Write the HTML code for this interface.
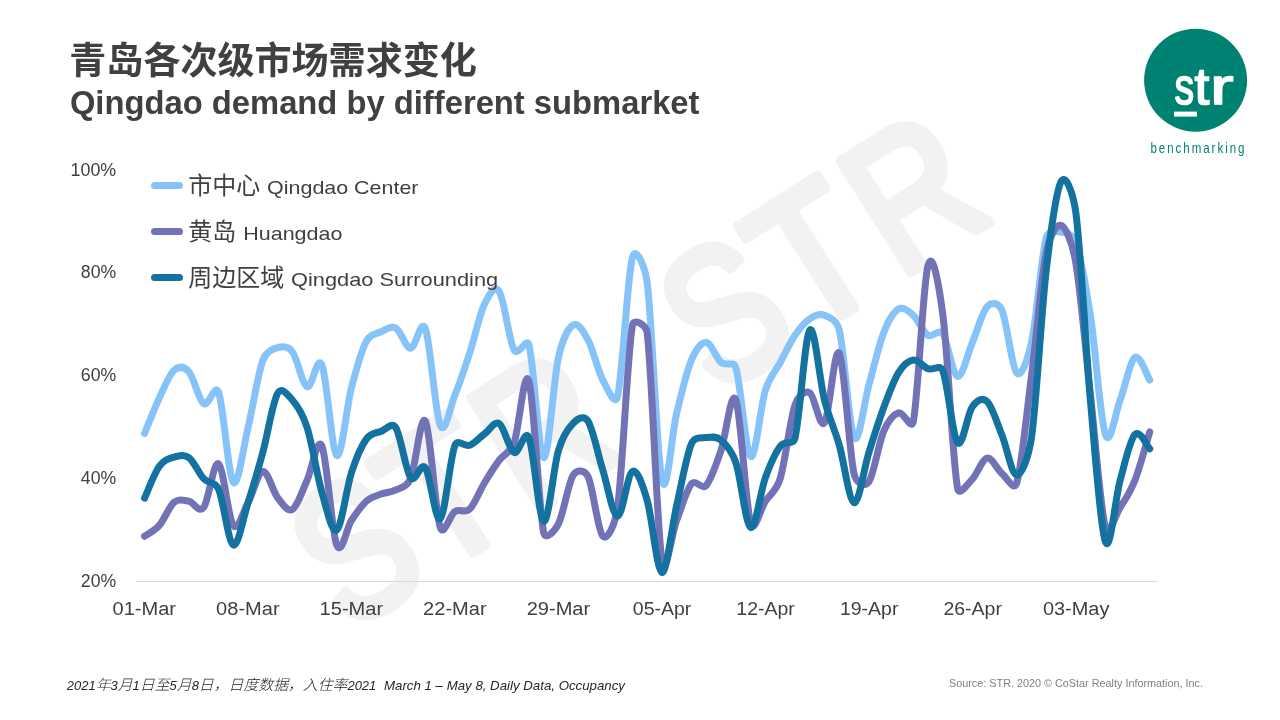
<!DOCTYPE html>
<html lang="zh"><head><meta charset="utf-8"><title>Qingdao demand by different submarket</title>
<style>html,body{margin:0;padding:0;background:#fff}body{width:1280px;height:720px;overflow:hidden}svg{display:block}</style></head>
<body>
<svg width="1280" height="720" viewBox="0 0 1280 720">
<rect width="1280" height="720" fill="#fff"/>
<g font-family="'Liberation Sans',sans-serif" fill="#f2f2f2" stroke="#f2f2f2" stroke-width="10" stroke-linejoin="round" font-size="191">
<text transform="translate(345.1,637.5) rotate(-32.5) translate(0,-3)"><tspan x="5" textLength="102" lengthAdjust="spacingAndGlyphs">S</tspan><tspan x="109.5" textLength="102.4" lengthAdjust="spacingAndGlyphs">T</tspan><tspan x="221" textLength="115" lengthAdjust="spacingAndGlyphs">R</tspan></text>
<text transform="translate(714.6,400.7) rotate(-32.5) translate(0,-3)"><tspan x="5" textLength="102" lengthAdjust="spacingAndGlyphs">S</tspan><tspan x="109.5" textLength="102.4" lengthAdjust="spacingAndGlyphs">T</tspan><tspan x="221" textLength="115" lengthAdjust="spacingAndGlyphs">R</tspan></text>
</g>
<text x="69.3" y="74" font-family="'Liberation Sans','Noto Sans CJK SC',sans-serif" font-weight="bold" font-size="37.4" fill="#404040" textLength="407.5" lengthAdjust="spacingAndGlyphs">青岛各次级市场需求变化</text>
<text x="69.9" y="113.7" font-family="'Liberation Sans',sans-serif" font-weight="bold" font-size="34" fill="#404040" textLength="629.6" lengthAdjust="spacingAndGlyphs">Qingdao demand by different submarket</text>
<line x1="136.2" y1="581.5" x2="1157.5" y2="581.5" stroke="#d9d9d9" stroke-width="1"/>
<g font-family="'Liberation Sans',sans-serif" font-size="17.6" fill="#404040">
<text x="70.6" y="175.6" textLength="45.6" lengthAdjust="spacingAndGlyphs">100%</text>
<text x="80.8" y="278.4" textLength="35.4" lengthAdjust="spacingAndGlyphs">80%</text>
<text x="80.8" y="381.1" textLength="35.4" lengthAdjust="spacingAndGlyphs">60%</text>
<text x="80.8" y="483.9" textLength="35.4" lengthAdjust="spacingAndGlyphs">40%</text>
<text x="80.8" y="586.6" textLength="35.4" lengthAdjust="spacingAndGlyphs">20%</text>
<text x="112.5" y="614.8" textLength="63.5" lengthAdjust="spacingAndGlyphs">01-Mar</text>
<text x="216.1" y="614.8" textLength="63.5" lengthAdjust="spacingAndGlyphs">08-Mar</text>
<text x="319.6" y="614.8" textLength="63.5" lengthAdjust="spacingAndGlyphs">15-Mar</text>
<text x="423.1" y="614.8" textLength="63.5" lengthAdjust="spacingAndGlyphs">22-Mar</text>
<text x="526.7" y="614.8" textLength="63.5" lengthAdjust="spacingAndGlyphs">29-Mar</text>
<text x="632.8" y="614.8" textLength="58.5" lengthAdjust="spacingAndGlyphs">05-Apr</text>
<text x="736.3" y="614.8" textLength="58.5" lengthAdjust="spacingAndGlyphs">12-Apr</text>
<text x="839.9" y="614.8" textLength="58.5" lengthAdjust="spacingAndGlyphs">19-Apr</text>
<text x="943.4" y="614.8" textLength="58.5" lengthAdjust="spacingAndGlyphs">26-Apr</text>
<text x="1042.9" y="614.8" textLength="66.5" lengthAdjust="spacingAndGlyphs">03-May</text>
</g>
<g fill="none" stroke-width="7" stroke-linecap="round" stroke-linejoin="round">
<path stroke="#86c3f9" d="M144.55 433.44C147.01 427.53 154.40 408.52 159.33 397.99C164.26 387.46 169.19 374.62 174.11 370.25C179.04 365.88 183.97 366.23 188.90 371.79C193.82 377.36 198.75 400.30 203.68 403.64C208.61 406.98 215.13 382.97 218.46 391.83C223.39 404.93 228.31 476.25 233.24 482.25C238.17 488.24 243.10 448.08 248.02 427.79C252.95 407.50 257.88 373.84 262.81 360.49C266.19 351.30 272.66 349.10 277.59 347.64C282.52 346.19 287.74 345.64 292.37 351.75C297.30 358.26 302.22 384.46 307.15 386.69C312.08 388.91 317.01 353.64 321.93 365.11C326.86 376.58 331.79 451.76 336.72 455.53C341.64 459.30 346.57 406.72 351.50 387.72C356.43 368.71 361.35 350.81 366.28 341.48C370.42 333.65 376.13 333.94 381.06 331.72C385.99 329.49 390.92 325.38 395.84 328.12C400.77 330.86 405.70 348.07 410.63 348.16C415.55 348.24 421.02 317.20 425.41 328.63C430.34 341.48 435.26 414.17 440.19 425.22C445.12 436.27 450.04 406.98 454.97 394.91C459.90 382.84 464.83 367.94 469.75 352.78C474.68 337.63 479.61 314.16 484.54 303.97C488.73 295.31 494.39 283.94 499.32 291.64C504.25 299.35 509.17 341.39 514.10 350.21C517.96 357.12 526.78 336.93 528.88 344.56C533.81 362.46 538.74 455.45 543.66 457.59C548.59 459.73 553.52 379.50 558.45 357.40C562.32 340.04 568.30 327.95 573.23 325.04C578.16 322.13 583.08 330.78 588.01 339.94C592.94 349.10 597.86 370.59 602.79 380.01C607.72 389.43 614.98 407.19 617.57 396.45C622.50 376.07 627.43 276.75 632.36 257.74C635.96 243.82 645.24 268.15 647.14 282.40C652.07 319.47 656.99 458.44 661.92 480.19C666.85 501.94 671.77 432.93 676.70 412.89C681.63 392.85 686.56 371.70 691.48 359.97C695.91 349.43 701.34 342.08 706.27 342.51C711.19 342.93 716.12 358.35 721.05 362.54C725.98 366.74 733.48 360.22 735.83 367.68C740.76 383.35 745.68 452.79 750.61 456.56C755.54 460.33 760.47 405.95 765.39 390.28C770.11 375.29 775.25 371.70 780.18 362.54C785.10 353.38 790.03 342.59 794.96 335.31C799.89 328.04 804.81 322.21 809.74 318.87C814.67 315.53 819.59 313.39 824.52 315.28C829.45 317.16 836.84 319.98 839.30 330.18C844.23 350.55 849.16 428.39 854.09 437.55C859.01 446.71 863.94 402.61 868.87 385.15C873.80 367.68 878.72 345.42 883.65 332.74C888.58 320.07 893.50 312.02 898.43 309.11C903.36 306.20 908.29 310.91 913.21 315.28C918.14 319.64 923.07 332.23 928.00 335.31C932.92 338.40 938.44 327.74 942.78 333.77C947.71 340.62 952.63 374.96 957.56 376.41C962.49 377.87 967.41 354.15 972.34 342.51C977.27 330.86 982.20 311.94 987.12 306.54C992.05 301.15 998.81 303.19 1001.91 310.14C1006.83 321.19 1011.76 367.42 1016.69 372.82C1021.62 378.21 1027.87 358.98 1031.47 342.51C1036.40 319.99 1041.32 256.11 1046.25 237.70C1048.30 230.06 1056.11 231.28 1061.03 232.05C1065.96 232.82 1072.85 233.83 1075.82 242.32C1080.74 256.45 1085.67 284.79 1090.60 316.82C1095.53 348.84 1100.45 420.60 1105.38 434.47C1110.31 448.34 1115.23 412.89 1120.16 400.05C1125.09 387.20 1130.02 360.74 1134.94 357.40C1139.87 354.07 1147.26 376.24 1149.73 380.01"/>
<path stroke="#7272b6" d="M144.55 536.19C147.01 534.39 154.40 531.05 159.33 525.40C164.26 519.75 169.19 506.31 174.11 502.28C179.04 498.26 183.97 500.40 188.90 501.25C193.82 502.11 198.75 513.67 203.68 507.42C208.61 501.17 213.53 460.75 218.46 463.75C223.39 466.75 228.31 518.89 233.24 525.40C238.17 531.91 243.10 511.79 248.02 502.80C252.95 493.81 257.88 472.31 262.81 471.46C267.73 470.60 272.66 491.32 277.59 497.66C282.52 504.00 287.44 512.39 292.37 509.47C297.30 506.56 302.22 490.72 307.15 480.19C312.08 469.66 317.01 435.50 321.93 446.28C326.86 457.07 331.79 532.59 336.72 544.92C341.64 557.25 346.57 527.54 351.50 520.26C356.43 512.99 361.35 505.62 366.28 501.25C371.21 496.89 376.13 495.95 381.06 494.06C385.99 492.18 390.92 492.52 395.84 489.95C400.77 487.38 406.95 487.20 410.63 478.65C415.55 467.18 420.48 412.98 425.41 421.11C430.34 429.24 435.26 512.39 440.19 527.46C443.57 537.78 450.04 514.61 454.97 511.53C459.90 508.45 464.83 513.76 469.75 508.96C474.68 504.17 479.61 490.89 484.54 482.76C489.46 474.63 494.39 466.83 499.32 460.15C504.25 453.48 510.10 453.41 514.10 442.69C519.03 429.50 523.95 366.05 528.88 381.04C533.81 396.02 538.74 508.79 543.66 532.59C545.40 541.00 554.52 531.50 558.45 523.86C563.37 514.27 568.30 482.93 573.23 475.05C577.17 468.75 584.77 469.91 588.01 476.59C592.94 486.78 597.86 531.05 602.79 536.19C607.72 541.33 615.33 523.44 617.57 507.42C622.50 472.31 627.43 354.67 632.36 325.55C633.73 317.45 646.11 324.59 647.14 332.74C652.07 371.96 656.99 529.60 661.92 560.85C665.28 582.18 671.77 533.11 676.70 520.26C681.63 507.42 686.56 489.61 691.48 483.79C696.28 478.12 701.34 490.89 706.27 485.33C711.19 479.76 716.12 464.61 721.05 450.39C725.98 436.18 730.90 387.97 735.83 400.05C740.76 412.12 745.68 505.96 750.61 522.83C754.28 535.39 760.47 508.62 765.39 501.25C770.32 493.89 776.20 491.56 780.18 478.65C785.10 462.64 790.03 419.48 794.96 405.18C798.09 396.08 804.81 389.94 809.74 392.85C814.67 395.76 819.59 429.24 824.52 422.65C829.45 416.06 834.38 344.73 839.30 353.29C844.23 361.86 849.16 452.62 854.09 474.03C855.96 482.15 864.12 488.58 868.87 481.73C873.80 474.63 878.72 442.86 883.65 431.38C888.32 420.51 893.50 414.43 898.43 412.89C903.36 411.35 911.50 430.69 913.21 422.14C918.14 397.56 923.07 283.42 928.00 265.44C932.92 247.46 939.43 288.97 942.78 314.25C947.71 351.41 952.63 460.93 957.56 488.41C959.10 496.99 967.41 484.22 972.34 479.16C977.27 474.11 982.20 459.04 987.12 458.10C992.05 457.16 996.98 469.32 1001.91 473.51C1006.83 477.71 1014.12 491.75 1016.69 483.27C1021.62 467.00 1026.54 414.35 1031.47 375.90C1036.40 337.45 1041.32 277.69 1046.25 252.60C1049.24 237.40 1056.11 223.66 1061.03 225.37C1065.96 227.08 1072.38 243.01 1075.82 262.87C1080.74 291.39 1085.67 352.35 1090.60 396.45C1095.53 440.55 1100.45 508.96 1105.38 527.46C1108.58 539.49 1115.23 515.30 1120.16 507.42C1125.09 499.54 1130.02 492.78 1134.94 480.19C1139.87 467.60 1147.26 439.95 1149.73 431.90"/>
<path stroke="#13729f" d="M144.55 498.17C147.01 492.86 154.40 473.17 159.33 466.32C164.26 459.47 169.19 458.53 174.11 457.07C179.04 455.62 183.97 453.99 188.90 457.59C193.82 461.18 198.75 473.43 203.68 478.65C208.61 483.87 214.79 480.70 218.46 488.92C223.39 499.97 228.31 542.61 233.24 544.92C238.17 547.24 243.10 518.21 248.02 502.80C252.95 487.38 257.88 470.69 262.81 452.45C267.73 434.21 272.66 402.10 277.59 393.37C281.57 386.30 287.44 394.31 292.37 400.05C297.30 405.78 302.37 412.82 307.15 427.79C312.08 443.20 317.01 475.48 321.93 492.52C326.86 509.56 331.79 533.36 336.72 530.02C341.64 526.69 346.57 487.64 351.50 472.48C356.43 457.33 361.35 445.94 366.28 439.09C371.15 432.32 376.13 433.27 381.06 431.38C385.99 429.50 391.75 421.38 395.84 427.79C400.77 435.50 405.70 470.94 410.63 477.62C415.55 484.30 420.48 461.01 425.41 467.86C430.34 474.71 435.26 522.49 440.19 518.72C445.12 514.95 450.04 457.50 454.97 445.26C457.73 438.40 464.83 447.14 469.75 445.26C474.68 443.37 479.61 437.55 484.54 433.95C489.46 430.36 494.39 420.60 499.32 423.68C504.25 426.76 509.17 450.14 514.10 452.45C519.03 454.76 524.74 427.91 528.88 437.55C533.81 449.02 538.74 519.15 543.66 521.29C548.59 523.43 553.52 466.75 558.45 450.39C562.91 435.56 568.30 428.05 573.23 423.16C578.16 418.28 584.02 414.80 588.01 421.11C592.94 428.90 597.86 454.08 602.79 469.92C607.72 485.76 612.65 515.90 617.57 516.15C622.50 516.41 627.43 474.11 632.36 471.46C637.28 468.80 642.60 484.70 647.14 500.23C652.07 517.10 656.99 571.81 661.92 572.67C666.85 573.52 671.77 526.86 676.70 505.37C681.63 483.87 686.56 455.02 691.48 443.71C694.68 436.37 701.34 438.15 706.27 437.55C711.19 436.95 716.12 435.92 721.05 440.12C725.98 444.31 731.50 449.93 735.83 462.72C740.76 477.28 745.68 524.97 750.61 527.46C755.54 529.94 760.47 491.15 765.39 477.62C770.32 464.09 775.25 452.88 780.18 446.28C785.10 439.69 792.87 446.26 794.96 438.06C799.89 418.71 804.81 336.51 809.74 330.18C814.67 323.84 819.59 380.87 824.52 400.05C829.45 419.23 834.38 428.13 839.30 445.26C844.23 462.38 849.16 501.60 854.09 502.80C859.01 504.00 863.94 468.29 868.87 452.45C873.80 436.61 878.72 421.02 883.65 407.75C888.58 394.48 893.50 380.78 898.43 372.82C903.36 364.85 908.29 360.66 913.21 359.97C918.14 359.29 923.07 366.91 928.00 368.71C932.92 370.51 940.01 363.83 942.78 370.76C947.71 383.09 952.63 436.69 957.56 442.69C962.49 448.68 967.41 413.57 972.34 406.72C976.91 400.37 982.20 396.88 987.12 401.59C992.05 406.30 996.98 422.74 1001.91 434.98C1006.83 447.23 1011.76 474.63 1016.69 475.05C1021.62 475.48 1028.59 457.50 1031.47 437.55C1036.40 403.39 1041.32 312.71 1046.25 270.07C1051.18 227.43 1056.11 191.29 1061.03 181.70C1065.96 172.11 1073.55 195.59 1075.82 212.53C1080.74 249.35 1085.67 347.73 1090.60 402.62C1095.53 457.50 1100.45 528.91 1105.38 541.84C1110.31 554.77 1115.23 498.09 1120.16 480.19C1125.09 462.30 1130.02 439.69 1134.94 434.47C1139.87 429.24 1147.26 446.45 1149.73 448.85"/>
<path stroke="#86c3f9" d="M154.5 185.4H179.5"/>
<path stroke="#7272b6" d="M154.5 231.4H179.5"/>
<path stroke="#13729f" d="M154.5 277.5H179.5"/>
</g>
<g fill="#404040">
<text x="188.3" y="194.0" font-family="'Liberation Sans','Noto Sans CJK SC',sans-serif" font-size="24" textLength="72.0" lengthAdjust="spacingAndGlyphs">市中心</text>
<text x="267.1" y="193.7" font-family="'Liberation Sans',sans-serif" font-size="19" textLength="151.4" lengthAdjust="spacingAndGlyphs">Qingdao Center</text>
<text x="188.3" y="240.2" font-family="'Liberation Sans','Noto Sans CJK SC',sans-serif" font-size="24" textLength="48.0" lengthAdjust="spacingAndGlyphs">黄岛</text>
<text x="243.2" y="239.9" font-family="'Liberation Sans',sans-serif" font-size="19" textLength="99.3" lengthAdjust="spacingAndGlyphs">Huangdao</text>
<text x="188.3" y="286.2" font-family="'Liberation Sans','Noto Sans CJK SC',sans-serif" font-size="24" textLength="96.0" lengthAdjust="spacingAndGlyphs">周边区域</text>
<text x="291.0" y="285.9" font-family="'Liberation Sans',sans-serif" font-size="19" textLength="207.2" lengthAdjust="spacingAndGlyphs">Qingdao Surrounding</text>
</g>
<text x="66.8" y="689.5" font-family="'Liberation Sans','Noto Sans CJK SC',sans-serif" font-style="italic" font-weight="300" font-size="14.67" fill="#262626" textLength="309.5" lengthAdjust="spacingAndGlyphs"><tspan font-size="12.8">2021</tspan>年<tspan font-size="12.8">3</tspan>月<tspan font-size="12.8">1</tspan>日至<tspan font-size="12.8">5</tspan>月<tspan font-size="12.8">8</tspan>日，日度数据，入住率<tspan font-size="12.8">2021</tspan></text>
<text x="384" y="689.5" font-family="'Liberation Sans',sans-serif" font-style="italic" font-size="13.6" fill="#262626" textLength="241" lengthAdjust="spacingAndGlyphs">March 1 – May 8, Daily Data, Occupancy</text>
<text x="949" y="686.6" font-family="'Liberation Sans',sans-serif" font-size="11" fill="#7f7f7f" textLength="254" lengthAdjust="spacingAndGlyphs">Source: STR. 2020 © CoStar Realty Information, Inc.</text>
<circle cx="1195.6" cy="80.2" r="51.5" fill="#008272"/>
<text y="104.2" font-family="'Liberation Sans',sans-serif" font-size="52" fill="#fff" stroke="#fff" stroke-width="1.7" stroke-linejoin="round"><tspan x="1174.4" textLength="19.6" lengthAdjust="spacingAndGlyphs">s</tspan><tspan x="1194.6" textLength="14.8" lengthAdjust="spacingAndGlyphs">t</tspan><tspan x="1210.3" textLength="23.2" lengthAdjust="spacingAndGlyphs">r</tspan></text>
<rect x="1174" y="111.6" width="23" height="5" fill="#fff"/>
<text transform="translate(1150.4,153.2) scale(0.8,1)" font-family="'Liberation Sans',sans-serif" font-size="14.4" fill="#008272" textLength="117.6" lengthAdjust="spacing">benchmarking</text>
</svg>
</body></html>
